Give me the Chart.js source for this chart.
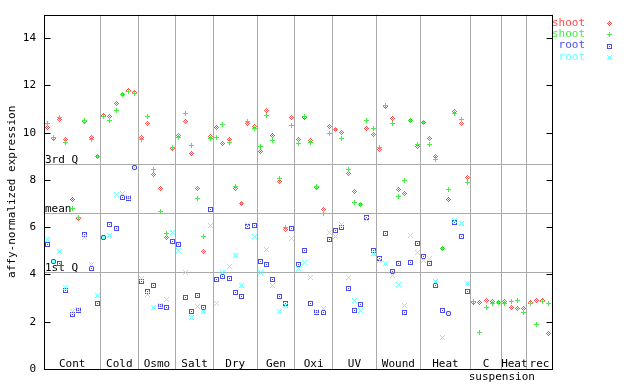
<!DOCTYPE html>
<html>
<head>
<meta charset="utf-8">
<script src="https://cdn.jsdelivr.net/npm/chart.js@4.4.0/dist/chart.umd.min.js"></script>
<style>
  body { margin: 0; background: #fff; }
</style>
</head>
<body>
<canvas id="chart" width="640" height="384"></canvas>
<script>
// conditions along the x axis and how many samples each one has
const categories = ['Cont', 'Cold', 'Osmo', 'Salt', 'Dry', 'Gen', 'Oxi', 'UV', 'Wound', 'Heat', 'C', 'Heat', 'rec'];
const sampleCounts = [9, 6, 6, 6, 7, 6, 6, 7, 7, 8, 5, 4, 4];

const shootRed = [
  10.21, 9.76, 10.56, 9.70, 7.17, 6.38, 10.47, 9.78, 8.98,
  10.72, 10.68, 11.22, 11.60, 11.78, 11.71,
  9.78, 10.37, 8.22, 7.63, 5.57, 9.35,
  9.88, 10.46, 9.11, 7.63, 4.98, 9.82,
  10.21, 9.53, 9.70, 7.63, 7.01, 10.39, 10.27,
  9.22, 10.94, 9.87, 7.95, 5.90, 10.63,
  9.70, 10.63, 9.66, 7.70, 6.76, 10.25,
  10.15, 10.00, 8.29, 7.51, 6.95, 10.16, 9.91,
  9.30, 11.09, 10.60, 7.59, 7.44, 10.50, 9.40,
  10.42, 9.74, 9.00, 5.08, 7.17, 10.88, 10.37, 8.10,
  2.83, 2.83, 2.92, 2.87, 2.83,
  2.87, 2.61, 2.57, 2.54,
  2.83, 2.91, 2.92, 1.52
];
const shootGreen = [
  10.40, 9.78, 10.64, 9.57, 6.80, 6.41, 10.50, 9.70, 9.00,
  10.70, 10.51, 10.94, 11.60, 11.75, 11.67,
  9.71, 10.67, 8.43, 6.66, 5.74, 9.38,
  9.81, 10.80, 9.45, 7.22, 5.61, 9.76,
  9.80, 10.33, 9.57, 7.72, 7.01, 10.46, 10.16,
  9.42, 10.75, 9.66, 8.05, 6.01, 10.29,
  9.53, 10.67, 9.57, 7.73, 6.58, 9.95,
  10.15, 9.74, 8.43, 7.04, 6.97, 10.50, 10.16,
  9.38, 11.15, 10.40, 7.32, 7.97, 10.50, 9.50,
  10.42, 9.49, 8.86, 5.12, 7.59, 10.80, 10.56, 7.89,
  2.87, 1.56, 2.59, 2.78, 2.81,
  2.78, 2.87, 2.91, 2.40,
  2.78, 1.90, 2.87, 2.78
];
const rootBlue = [
  5.28, 4.54, 4.48, 3.33, 2.32, 2.47, 5.69, 4.24, 2.78,
  5.57, 6.12, 5.95, 7.25, 7.22, 8.53,
  3.71, 3.29, 3.54, 2.63, 2.61, 5.40,
  5.28, 3.04, 2.45, 3.12, 2.61, 6.75,
  3.80, 3.92, 3.84, 3.25, 3.08, 6.03, 6.07,
  4.55, 4.43, 3.80, 3.08, 2.78, 5.95,
  4.43, 5.02, 2.78, 2.40, 2.40, 5.48,
  5.86, 5.99, 3.42, 2.49, 2.74, 6.41, 5.02,
  4.68, 5.74, 4.13, 4.47, 2.40, 4.51, 5.31,
  4.77, 4.47, 3.54, 2.49, 2.36, 6.20, 5.61, 3.29,
  null, null, null, null, null,
  null, null, null, null,
  null, null, null, null
];
const rootCyan = [
  5.48, 4.56, 4.98, 3.47, 2.45, 2.50, 5.58, 4.44, 3.12,
  5.57, 5.65, 7.39, 7.42, 7.25, 8.53,
  3.84, 3.16, 2.59, 2.67, 2.95, 5.78,
  5.02, 4.09, 2.19, 2.66, 2.45, 6.07,
  2.78, 4.10, 4.34, 4.81, 3.54, 6.12, 5.61,
  4.09, 5.06, 3.54, 2.45, 2.70, 5.53,
  4.24, 4.51, 3.88, 2.45, 2.57, 5.78,
  5.61, 6.12, 3.88, 2.91, 2.49, 6.33, 4.89,
  4.60, 4.47, 3.96, 3.59, 2.70, 5.65, 4.93,
  4.60, 4.68, 3.71, 1.35, 2.36, 6.28, 6.16, 3.63,
  null, null, null, null, null,
  null, null, null, null,
  null, null, null, null
];

const yTicks = [0, 2, 4, 6, 8, 10, 12, 14];
const quartileLabels = ['1st Q', 'mean', '3rd Q'];
const quartileValues = [4.09, 6.62, 8.69];

const FONT = '11px "DejaVu Sans Mono", monospace';
Chart.defaults.font.family = '"DejaVu Sans Mono", monospace';
Chart.defaults.font.size = 11;
Chart.defaults.color = '#000';

// little pixel markers, like the original image
function marker(color, test) {
  const c = document.createElement('canvas');
  c.width = 5; c.height = 5;
  const g = c.getContext('2d');
  g.fillStyle = color;
  for (let y = 0; y < 5; y++) {
    for (let x = 0; x < 5; x++) {
      if (test(x - 2, y - 2)) g.fillRect(x, y, 1, 1);
    }
  }
  return c;
}
const markers = [
  marker('#ff4c4c', (dx, dy) => Math.abs(dx) + Math.abs(dy) === 2 || (dx === 0 && dy === 0)),
  marker('#44ee44', (dx, dy) => dx === 0 || dy === 0),
  marker('#4c4cee', (dx, dy) => Math.abs(dx) === 2 || Math.abs(dy) === 2 || (dx === 0 && dy === 0)),
  marker('#66ffff', (dx, dy) => Math.abs(dx) === Math.abs(dy))
];
const legendNames = ['shoot', 'shoot', 'root', 'root'];
const legendColors = ['#ff4c4c', '#44ee44', '#4c4cee', '#66ffff'];

// category boundaries in sample units
const bounds = [0];
sampleCounts.forEach(n => bounds.push(bounds[bounds.length - 1] + n));
const total = bounds[bounds.length - 1];

function points(values) {
  return values.map((v, i) => ({ x: i + 0.5, y: v }));
}

const allSeries = [shootRed, shootGreen, rootBlue, rootCyan];
const datasets = allSeries.map((vals, k) => ({
  label: legendNames[k],
  data: points(vals),
  pointStyle: markers[k],
  pointRadius: 3,
  showLine: false,
  order: 4 - k
}));

const decorations = {
  id: 'decorations',
  beforeDatasetsDraw(chart) {
    const ctx = chart.ctx;
    const area = chart.chartArea;
    const ys = chart.scales.y;
    const xs = chart.scales.x;
    ctx.save();
    ctx.strokeStyle = '#aaaaaa';
    ctx.lineWidth = 1;
    quartileValues.forEach(v => {
      const y = Math.round(ys.getPixelForValue(v)) + 0.5;
      ctx.beginPath();
      ctx.moveTo(area.left, y);
      ctx.lineTo(area.right, y);
      ctx.stroke();
    });
    ctx.fillStyle = '#000';
    ctx.font = FONT;
    ctx.textBaseline = 'alphabetic';
    ctx.textAlign = 'left';
    quartileValues.forEach((v, i) => {
      const y = ys.getPixelForValue(v);
      ctx.fillText(quartileLabels[i], area.left + 1, y - 1);
    });
    ctx.textAlign = 'center';
    ctx.textBaseline = 'middle';
    categories.forEach((c, i) => {
      const x = xs.getPixelForValue((bounds[i] + bounds[i + 1]) / 2);
      ctx.fillText(c, x, 364);
    });
    // second line of the "C suspension" label
    ctx.fillText('suspension', xs.getPixelForValue(bounds[11]), 377);
    ctx.restore();
    ctx.imageSmoothingEnabled = false;
  },
  afterDraw(chart) {
    const ctx = chart.ctx;
    const area = chart.chartArea;
    const ys = chart.scales.y;
    ctx.save();
    ctx.strokeStyle = '#000';
    ctx.lineWidth = 1;
    const l = Math.round(area.left) + 0.5, r = Math.round(area.right) + 0.5;
    const t = Math.round(area.top) + 0.5, b = Math.round(area.bottom) + 0.5;
    ctx.strokeRect(l, t, r - l, b - t);
    ctx.beginPath();
    yTicks.forEach(v => {
      const y = Math.round(ys.getPixelForValue(v)) + 0.5;
      ctx.moveTo(l, y); ctx.lineTo(l + 6, y);
      ctx.moveTo(r - 6, y); ctx.lineTo(r, y);
    });
    ctx.stroke();

    // y axis title
    ctx.fillStyle = '#000';
    ctx.font = FONT;
    ctx.translate(12, (area.top + area.bottom) / 2);
    ctx.rotate(-Math.PI / 2);
    ctx.textAlign = 'center';
    ctx.textBaseline = 'middle';
    ctx.fillText('affy-normalized expression', 0, 0);
    ctx.restore();

    // legend
    ctx.save();
    ctx.font = FONT;
    ctx.textAlign = 'right';
    ctx.textBaseline = 'middle';
    ctx.imageSmoothingEnabled = false;
    legendNames.forEach((name, i) => {
      const y = 23 + i * 11.3;
      ctx.fillStyle = legendColors[i];
      ctx.fillText(name, 585, y);
      ctx.drawImage(markers[i], 607, Math.round(y) - 2);
    });
    ctx.restore();
  }
};

new Chart(document.getElementById('chart'), {
  type: 'scatter',
  data: { datasets: datasets },
  options: {
    responsive: false,
    animation: false,
    layout: { padding: { top: 13, right: 88, left: 0, bottom: 0 } },
    plugins: { legend: { display: false }, tooltip: { enabled: false } },
    scales: {
      x: {
        type: 'linear',
        min: 0,
        max: total,
        afterBuildTicks: axis => { axis.ticks = bounds.map(v => ({ value: v })); },
        afterFit: axis => { axis.height = 15; },
        ticks: { display: false },
        border: { display: false },
        grid: { color: '#aaaaaa', lineWidth: 1, drawTicks: false }
      },
      y: {
        min: 0,
        max: 15,
        afterBuildTicks: axis => { axis.ticks = yTicks.map(v => ({ value: v })); },
        afterFit: axis => { axis.width = 44; },
        ticks: { padding: 8, color: '#000', font: { size: 11 } },
        border: { display: false },
        grid: { display: false, drawTicks: false }
      }
    }
  },
  plugins: [decorations]
});
</script>
</body>
</html>
